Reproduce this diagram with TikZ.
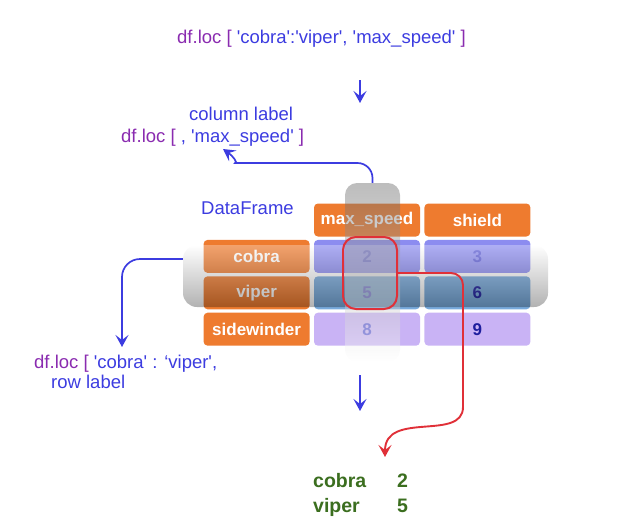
\documentclass[tikz,border=0pt]{standalone}
\usepackage{fontspec}
\setmainfont{Liberation Sans}[Ligatures=TeXReset]
\usepackage{xcolor}
\usepackage{tikz}
\usetikzlibrary{arrows.meta,positioning}

\definecolor{dfpurple}{HTML}{8A2BB0}
\definecolor{dfblue}{HTML}{3C3CE0}
\definecolor{dforange}{HTML}{EE7B2F}
\definecolor{rowone}{HTML}{8C8CF0}
\definecolor{rowtwo}{HTML}{78AADC}
\definecolor{rowthree}{HTML}{C9B3F5}
\definecolor{valblue}{HTML}{5A5AD6}
\definecolor{valdark}{HTML}{1E1E9E}
\definecolor{selred}{HTML}{E03038}
\definecolor{outgreen}{HTML}{3B6E1F}

\begin{document}
\begin{tikzpicture}[
    x=1pt, y=-1pt,
    labeltext/.style={font=\fontsize{18.5}{22}\selectfont, text=dfblue, inner sep=0pt},
    cell/.style={rounded corners=4pt, minimum width=106pt, minimum height=33pt, inner sep=0pt,
        font=\fontsize{17}{20}\selectfont\bfseries},
    hdr/.style={cell, fill=dforange, text=white},
    rowone/.style={cell, fill=rowone},
    rowtwo/.style={cell, fill=rowtwo},
    rowthree/.style={cell, fill=rowthree},
    band/.style={inner sep=0pt, fill opacity=0.3},
    outtext/.style={font=\fontsize{19.5}{22}\selectfont\bfseries, text=outgreen, inner sep=0pt},
    bluearrow/.style={draw=dfblue, line width=1.7pt, -{Stealth[length=12pt, width=13pt, inset=5pt]}},
    redarrow/.style={draw=selred, line width=1.9pt, -{Stealth[length=12pt, width=13pt, inset=5pt]}}
]
\useasboundingbox (0,0) rectangle (635,528);

\node[labeltext, anchor=base west] (query) at (177,43)
    {\textcolor{dfpurple}{df.loc [} 'cobra':'viper', 'max\_speed' \textcolor{dfpurple}{]}};
\coordinate (qfrom) at (360,80);
\coordinate (qto) at (360,103);
\draw[bluearrow] (qfrom) -- (qto);

\node[labeltext, anchor=base west] (collabel) at (189,120) {column label};
\node[labeltext, anchor=base west] (colquery) at (121,142)
    {\textcolor{dfpurple}{df.loc [} , 'max\_speed' \textcolor{dfpurple}{]}};
\node[labeltext, anchor=base west] (frame) at (201,214) {DataFrame};

% table
\node[hdr] (h-speed) at (367,220) {max\_speed};
\node[hdr, right=4pt of h-speed] (h-shield) {shield};
\node[hdr, below left=3pt and 4pt of h-speed] (cobra) {cobra};
\node[hdr, below=3pt of cobra] (viper) {viper};
\node[hdr, below=3pt of viper] (sidewinder) {sidewinder};
\node[rowone, right=4pt of cobra, text=valblue] (c-speed) {2};
\node[rowone, right=4pt of c-speed, text=valblue] (c-shield) {3};
\node[rowtwo, right=4pt of viper, text=valblue] (v-speed) {5};
\node[rowtwo, right=4pt of v-speed, text=valdark] (v-shield) {6};
\node[rowthree, right=4pt of sidewinder, text=valblue] (s-speed) {8};
\node[rowthree, right=4pt of s-speed, text=valdark] (s-shield) {9};

% selections
\node[band, rounded corners=14pt, minimum width=365pt, minimum height=62pt,
    top color=white, bottom color=black] (rowband) at (365.5,276) {};
\node[band, rounded corners=12pt, minimum width=55pt, minimum height=179pt,
    top color=black!62, bottom color=white, fill opacity=0.42] (colband) at (372.5,272.5) {};
\node[draw=selred, line width=2pt, rounded corners=13pt, minimum width=54pt,
    minimum height=72pt] (sel) at (370,273) {};

\coordinate (coltip) at (223,149);
\draw[bluearrow] (colband.north) [rounded corners=15pt] |- (250,163) [sharp corners]
    to[out=180, in=-35] (coltip);

\coordinate (rowtip) at (122,347);
\draw[bluearrow, rounded corners=18pt] ([yshift=17pt]rowband.west) -| (rowtip);
\node[labeltext, anchor=base west] (rowquery) at (34,368)
    {\textcolor{dfpurple}{df.loc [} 'cobra' : ‘viper',};
\node[labeltext, anchor=base west] (rowlabel) at (51,388) {row label};

\coordinate (outfrom) at (360,375);
\coordinate (outto) at (360,411);
\draw[bluearrow] (outfrom) -- (outto);

\coordinate (redtip) at (385,457);
\draw[redarrow] (sel.east) [rounded corners=12pt] -| (463,395) [sharp corners]
    to[out=-90, in=90, looseness=1.2] (redtip);

% result
\node[outtext, anchor=base west] (out-cobra) at (313,487) {cobra};
\node[outtext, anchor=base west] (out-two) at (397,487) {2};
\node[outtext, anchor=base west] (out-viper) at (313,512) {viper};
\node[outtext, anchor=base west] (out-five) at (397,512) {5};
\end{tikzpicture}
\end{document}
